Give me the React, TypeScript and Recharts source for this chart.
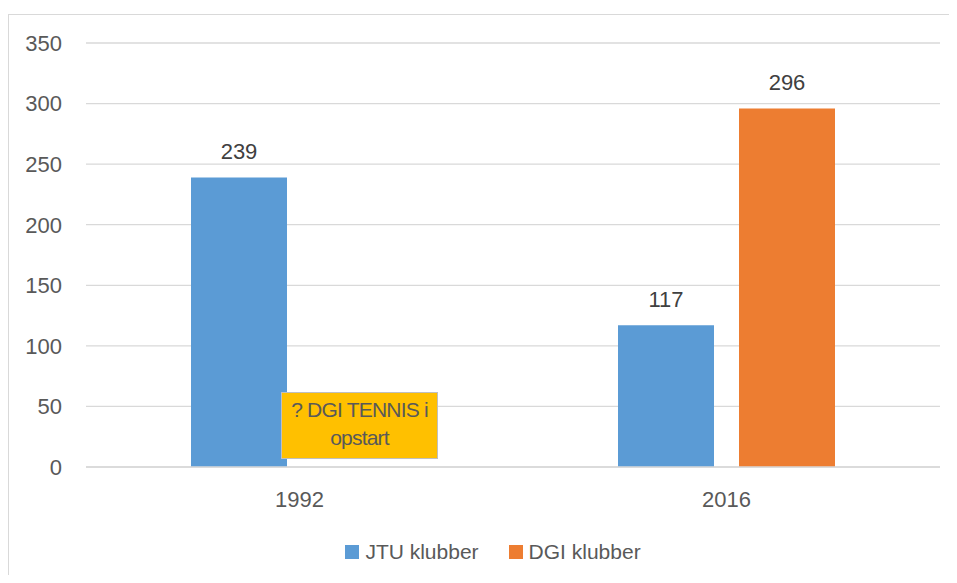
import { BarChart, Bar, XAxis, YAxis, CartesianGrid, Legend, LabelList } from "recharts";

const years = ["1992", "2016"];
const jtuClubs = [239, 117];
const dgiClubs: (number | null)[] = [null, 296];
const yTicks = [0, 50, 100, 150, 200, 250, 300, 350];
const jtuName = "JTU klubber";
const dgiName = "DGI klubber";
const calloutLines = ["? DGI TENNIS i", "opstart"];

const JTU_COLOR = "#5B9BD5";
const DGI_COLOR = "#ED7D31";
const TEXT = "#595959";
const FONT = "'Liberation Sans', Arial, sans-serif";

const rows = years.map((year, i) => ({ year, jtu: jtuClubs[i], dgi: dgiClubs[i] }));

function LegendBox() {
  const items = [
    { name: jtuName, color: JTU_COLOR },
    { name: dgiName, color: DGI_COLOR },
  ];
  return (
    <div
      style={{
        height: 30,
        display: "flex",
        justifyContent: "center",
        alignItems: "center",
        gap: 30,
        paddingLeft: 46,
        fontFamily: FONT,
        fontSize: 21,
        color: TEXT,
      }}
    >
      {items.map((it) => (
        <div key={it.name} style={{ display: "flex", alignItems: "center", gap: 6 }}>
          <span style={{ width: 14, height: 14, background: it.color, display: "inline-block" }} />
          <span>{it.name}</span>
        </div>
      ))}
    </div>
  );
}

export default function App() {
  return (
    <div
      style={{
        position: "relative",
        width: 957,
        height: 583,
        margin: -8,
        overflow: "hidden",
        background: "#fff",
        fontFamily: FONT,
      }}
    >
      {/* chart frame: only top and left edges are inside the crop */}
      <div
        style={{
          position: "absolute",
          left: 8,
          top: 14,
          width: 949,
          height: 569,
          borderTop: "1.5px solid #d9d9d9",
          borderLeft: "1.5px solid #d9d9d9",
        }}
      />
      <div style={{ position: "absolute", left: 0, top: 0 }}>
        <BarChart
          width={957}
          height={583}
          data={rows}
          margin={{ top: 43, right: 17, bottom: 16, left: 0 }}
          barGap={25}
          barSize={96}
        >
          <CartesianGrid vertical={false} stroke="#d9d9d9" strokeWidth={1.3} />
          <XAxis
            dataKey="year"
            axisLine={{ stroke: "#d9d9d9", strokeWidth: 1.3 }}
            tickLine={false}
            tickSize={0}
            tickMargin={24}
            height={70}
            tick={{ fill: TEXT, fontSize: 22, fontFamily: FONT }}
          />
          <YAxis
            domain={[0, 350]}
            ticks={yTicks}
            axisLine={false}
            tickLine={false}
            tickSize={0}
            tickMargin={24}
            width={86}
            interval={0}
            tick={{ fill: TEXT, fontSize: 22, fontFamily: FONT }}
          />
          <Legend verticalAlign="bottom" content={() => <LegendBox />} />
          <Bar dataKey="jtu" name={jtuName} fill={JTU_COLOR} isAnimationActive={false}>
            <LabelList dataKey="jtu" position="top" offset={18} fill="#404040" fontSize={22} fontFamily={FONT} />
          </Bar>
          <Bar dataKey="dgi" name={dgiName} fill={DGI_COLOR} isAnimationActive={false}>
            <LabelList dataKey="dgi" position="top" offset={18} fill="#404040" fontSize={22} fontFamily={FONT} />
          </Bar>
        </BarChart>
      </div>
      {/* "in start-up" note sitting where the 1992 DGI bar would be */}
      <div
        style={{
          position: "absolute",
          left: 281,
          top: 392,
          width: 157,
          height: 67,
          boxSizing: "border-box",
          background: "#FFC000",
          border: "1.5px solid #bfbfbf",
          color: TEXT,
          fontSize: 21,
          lineHeight: "28px",
          textAlign: "center",
          paddingTop: 3,
          letterSpacing: -0.8,
          whiteSpace: "nowrap",
        }}
      >
        {calloutLines.map((l) => (
          <div key={l}>{l}</div>
        ))}
      </div>
    </div>
  );
}
